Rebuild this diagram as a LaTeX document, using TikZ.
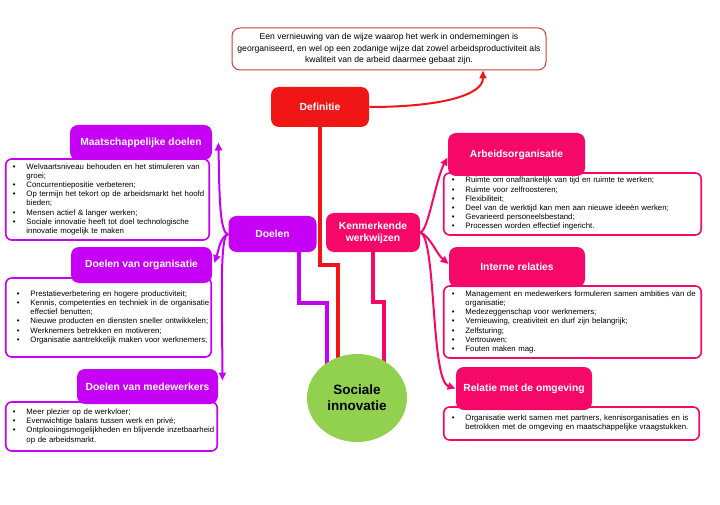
\documentclass[tikz,border=0pt]{standalone}
\usepackage{fontspec}
\setmainfont{Liberation Sans}
\usetikzlibrary{arrows.meta,shapes.geometric,backgrounds}
\tikzset{every picture/.style={line width=0.75pt}}
\definecolor{paars}{RGB}{198,0,244}
\definecolor{roze}{RGB}{245,8,104}
\definecolor{rood}{RGB}{240,22,22}
\definecolor{groen}{RGB}{146,208,80}
\definecolor{defrand}{RGB}{214,58,58}
\newcommand{\titelfont}{\fontsize{10.3}{12}\selectfont\bfseries}
\newcommand{\lijstfont}{\fontsize{7.8}{9.2}\selectfont}
\newcommand{\opsom}[1]{\begin{tabular}{@{}l@{\hspace{11pt}}l@{}}#1\end{tabular}}

\begin{document}
\begin{tikzpicture}[x=1pt,y=-1pt,
		titel/.style={fill=#1, text=white, rounded corners=8pt, font=\titelfont, align=center, inner sep=2pt},
		lijst/.style={draw=#1, fill=white, line width=1.6pt, rounded corners=6pt, font=\lijstfont, align=left, inner xsep=7pt, inner ysep=0pt},
		tak/.style={draw=#1, line width=4pt},
		pijl/.style={draw=#1, line width=2pt, -{Triangle[length=8pt,width=7pt]}}
	]
	\useasboundingbox (0,0) rectangle (720,505);
	% definitie
	\node[draw=defrand, line width=1pt, rounded corners=8pt, fill=white, minimum width=314pt, minimum height=42pt, align=center, font=\fontsize{8.6}{11.7}\selectfont] (omschrijving) at (389,49)
	{Een vernieuwing van de wijze waarop het werk in ondernemingen is\\georganiseerd, en wel op een zodanige wijze dat zowel arbeidsproductiviteit als\\kwaliteit van de arbeid daarmee gebaat zijn.};
	\node[titel=rood, minimum width=98pt, minimum height=40pt] (definitie) at (320,107) {Definitie};
	% middelste knopen
	\node[titel=paars, minimum width=88pt, minimum height=36pt] (doelen) at (272.5,234) {Doelen};
	\node[titel=roze, minimum width=94pt, minimum height=39pt] (kenmerk) at (373,232.5) {Kenmerkende\\werkwijzen};
	\node[ellipse, fill=groen, minimum width=100pt, minimum height=88pt, align=center, font=\fontsize{13.5}{15.7}\selectfont\bfseries] (si) at (357,398) {Sociale\\innovatie};
	% doelen
	\node[lijst=paars, text width=189.5pt, minimum height=81pt] (mdlijst) at (107.5,199.5) {\opsom{
			\textbullet & Welvaartsniveau behouden en het stimuleren van\\ & groei;\\
			\textbullet & Concurrentiepositie verbeteren;\\
			\textbullet & Op termijn het tekort op de arbeidsmarkt het hoofd\\ & bieden;\\
			\textbullet & Mensen actief \& langer werken;\\
			\textbullet & Sociale innovatie heeft tot doel technologische\\ & innovatie mogelijk te maken}};
	\node[titel=paars, minimum width=142pt, minimum height=35pt] (md) at (141,142.5) {Maatschappelijke doelen};
	\node[lijst=paars, inner xsep=11pt, text width=183.5pt, minimum height=79pt] (orglijst) at (108.5,317.5) {\opsom{
			\textbullet & Prestatieverbetering en hogere productiviteit;\\
			\textbullet & Kennis, competenties en techniek in de organisatie\\ & effectief benutten;\\
			\textbullet & Nieuwe producten en diensten sneller ontwikkelen;\\
			\textbullet & Werknemers betrekken en motiveren;\\
			\textbullet & Organisatie aantrekkelijk maken voor werknemers;}};
	\node[titel=paars, minimum width=141pt, minimum height=36pt] (org) at (141.5,265) {Doelen van organisatie};
	\node[lijst=paars, text width=197.5pt, minimum height=49pt] (mwlijst) at (111.5,426.5) {\opsom{
			\textbullet & Meer plezier op de werkvloer;\\
			\textbullet & Evenwichtige balans tussen werk en privé;\\
			\textbullet & Ontplooiingsmogelijkheden en blijvende inzetbaarheid\\ & op de arbeidsmarkt.}};
	\node[titel=paars, minimum width=141pt, minimum height=35pt] (mw) at (147.5,386.5) {Doelen van medewerkers};
	% kenmerkende werkwijzen
	\node[lijst=roze, inner xsep=8pt, text width=241.5pt, minimum height=62pt] (arblijst) at (572.5,204) {\opsom{
			\textbullet & Ruimte om onafhankelijk van tijd en ruimte te werken;\\
			\textbullet & Ruimte voor zelfroosteren;\\
			\textbullet & Flexibiliteit;\\
			\textbullet & Deel van de werktijd kan men aan nieuwe ideeën werken;\\
			\textbullet & Gevarieerd personeelsbestand;\\
			\textbullet & Processen worden effectief ingericht.}};
	\node[titel=roze, minimum width=137pt, minimum height=43pt] (arb) at (516.5,154.5) {Arbeidsorganisatie};
	\node[lijst=roze, inner xsep=8pt, text width=241.5pt, minimum height=72pt] (intlijst) at (572.5,322) {\opsom{
			\textbullet & Management en medewerkers formuleren samen ambities van de\\ & organisatie;\\
			\textbullet & Medezeggenschap voor werknemers;\\
			\textbullet & Vernieuwing, creativiteit en durf zijn belangrijk;\\
			\textbullet & Zelfsturing;\\
			\textbullet & Vertrouwen;\\
			\textbullet & Fouten maken mag.}};
	\node[titel=roze, minimum width=136pt, minimum height=40pt] (int) at (517,267) {Interne relaties};
	\node[lijst=roze, inner xsep=8pt, text width=239.5pt, minimum height=33pt] (omglijst) at (571.5,423.5) {\opsom{
			\textbullet & Organisatie werkt samen met partners, kennisorganisaties en is\\ & betrokken met de omgeving en maatschappelijke vraagstukken.}};
	\node[titel=roze, minimum width=136pt, minimum height=43pt] (omg) at (524,388.5) {Relatie met de omgeving};
	% verbindingen
	\begin{scope}[on background layer]
		\draw[tak=rood] (definitie.south) |- (338,265) -- (338,0 |- si.center);
		\draw[tak=paars] (299,0 |- doelen.south) |- (327,303) -- (327,0 |- si.center);
		\draw[tak=roze] (kenmerk.south) |- (384,302) -- (384,0 |- si.center);
	\end{scope}
	\draw[pijl=rood] (definitie.east) .. controls +(70,0) and +(0,25) .. ([xshift=94pt]omschrijving.south);
	\draw[pijl=paars] (doelen.west) .. controls +(-9,0) and +(1,45) .. ([xshift=6pt]md.east);
	\draw[pijl=paars] (doelen.west) .. controls +(-8,3) and +(4,-12) .. ([xshift=2pt,yshift=2pt]org.east);
	\draw[pijl=paars] (doelen.west) .. controls +(-9,0) and +(0,-70) .. ([xshift=4pt,yshift=6pt]mw.east);
	\draw[pijl=roze] (kenmerk.east) .. controls +(8,-2) and +(-12,22) .. ([yshift=-3pt]arb.west);
	\draw[pijl=roze] (kenmerk.east) .. controls +(10,4) and +(-12,-10) .. ([yshift=3pt]int.west);
	\draw[pijl=roze] (kenmerk.east) .. controls +(16,6) and +(-25,-8) .. (omg.west);
\end{tikzpicture}
\end{document}
